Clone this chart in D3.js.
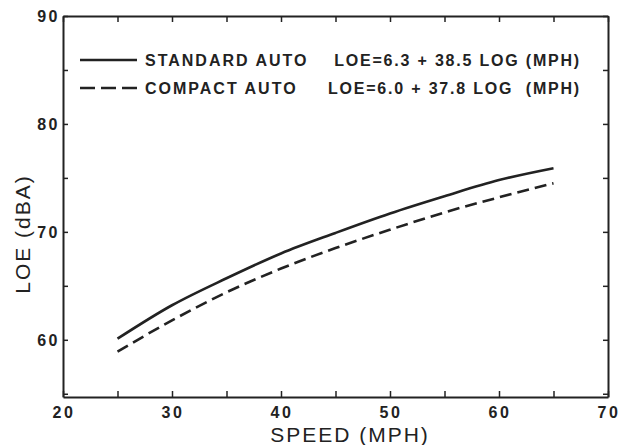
<!DOCTYPE html>
<html>
<head>
<meta charset="utf-8">
<script src="https://cdn.jsdelivr.net/npm/d3@7"></script>
<style>
  body { margin: 0; background: #fff; }
  text { font-family: "Liberation Sans", Arial, sans-serif; fill: #222; }
</style>
</head>
<body>
<div class="chart"></div>
<script>
// speed (mph) and LOE (dBA)
var speeds = [25, 30, 35, 40, 45, 50, 55, 60, 65];
var standardLoe = [60.1, 63.2, 65.7, 68.0, 69.9, 71.7, 73.3, 74.8, 75.9];
var compactLoe = [58.9, 61.8, 64.4, 66.6, 68.5, 70.2, 71.8, 73.2, 74.5];
var xTicks = [20, 30, 40, 50, 60, 70];
var yTicks = [60, 70, 80, 90];
var legendNames = ['STANDARD AUTO', 'COMPACT AUTO'];
var legendFormulas = ['LOE=6.3 + 38.5 LOG (MPH)', 'LOE=6.0 + 37.8 LOG  (MPH)'];

(() => {
var width = 621, height = 445;
var m = {left: 63, right: 608, top: 16, bottom: 397};
var ink = '#222';

var svg = d3.select('div.chart')
    .append('svg')
        .attr('width', width)
        .attr('height', height);

var x = d3.scaleLinear().domain([20, 70]).range([m.left, m.right]);
var y = d3.scaleLinear().domain([54.7, 90]).range([m.bottom, m.top]);

var minorX = d3.range(20, 71, 5);
var minorY = d3.range(55, 91, 5);

// frame axes with inward ticks, labels drawn separately
function styleAxis(g) {
    g.select('.domain').attr('stroke', ink).attr('stroke-width', 2);
    g.selectAll('.tick line').attr('stroke', ink).attr('stroke-width', 1.5);
    g.selectAll('.tick text').remove();
}

svg.append('g')
    .attr('transform', 'translate(0,' + m.bottom + ')')
    .call(d3.axisBottom(x).tickValues(minorX).tickSize(-6).tickSizeOuter(0))
    .call(styleAxis);
svg.append('g')
    .attr('transform', 'translate(0,' + m.top + ')')
    .call(d3.axisTop(x).tickValues(minorX).tickSize(-6).tickSizeOuter(0))
    .call(styleAxis);
svg.append('g')
    .attr('transform', 'translate(' + m.left + ',0)')
    .call(d3.axisLeft(y).tickValues(minorY).tickSize(-5).tickSizeOuter(0))
    .call(styleAxis);
svg.append('g')
    .attr('transform', 'translate(' + m.right + ',0)')
    .call(d3.axisRight(y).tickValues(minorY).tickSize(-5).tickSizeOuter(0))
    .call(styleAxis);

// tick labels
svg.selectAll('.xlab')
    .data(xTicks)
    .enter()
    .append('text')
        .attr('x', (d) => x(d) + 1)
        .attr('y', m.bottom + 21)
        .attr('text-anchor', 'middle')
        .style('font-size', '16px')
        .style('font-weight', 'bold')
        .style('letter-spacing', '2.5px')
        .text((d) => d);

svg.selectAll('.ylab')
    .data(yTicks)
    .enter()
    .append('text')
        .attr('x', m.left - 3)
        .attr('y', (d) => y(d) + 6)
        .attr('text-anchor', 'end')
        .style('font-size', '16px')
        .style('font-weight', 'bold')
        .style('letter-spacing', '2.5px')
        .text((d) => d);

svg.append('text')
    .attr('x', 350)
    .attr('y', 442)
    .attr('text-anchor', 'middle')
    .style('font-size', '21px')
    .style('letter-spacing', '2px')
    .text('SPEED (MPH)');

svg.append('text')
    .attr('transform', 'translate(30,234) rotate(-90)')
    .attr('text-anchor', 'middle')
    .style('font-size', '21px')
    .style('letter-spacing', '2px')
    .text('LOE (dBA)');

// curves
var line = d3.line()
    .x((d) => x(d[0]))
    .y((d) => y(d[1]))
    .curve(d3.curveMonotoneX);

var dashes = [null, '12,6'];

[standardLoe, compactLoe].forEach((vals, i) => {
    svg.append('path')
        .datum(speeds.map((s, j) => [s, vals[j]]))
        .attr('d', line)
        .attr('fill', 'none')
        .attr('stroke', ink)
        .attr('stroke-width', 2.6)
        .attr('stroke-dasharray', dashes[i]);
});

// legend
legendNames.forEach((name, i) => {
    var ly = 60 + i * 28;
    svg.append('line')
        .attr('x1', 80).attr('x2', 137)
        .attr('y1', ly).attr('y2', ly)
        .attr('stroke', ink)
        .attr('stroke-width', 2.6)
        .attr('stroke-dasharray', i ? '15,6' : null);
    svg.append('text')
        .attr('x', 145)
        .attr('y', ly + 6)
        .style('font-size', '16px')
        .style('font-weight', 'bold')
        .style('letter-spacing', '2px')
        .text(name);
    svg.append('text')
        .attr('x', 581)
        .attr('y', ly + 6)
        .attr('text-anchor', 'end')
        .style('font-size', '16px')
        .style('font-weight', 'bold')
        .style('letter-spacing', '1.8px')
        .style('white-space', 'pre')
        .text(legendFormulas[i]);
});
})();
</script>
</body>
</html>
